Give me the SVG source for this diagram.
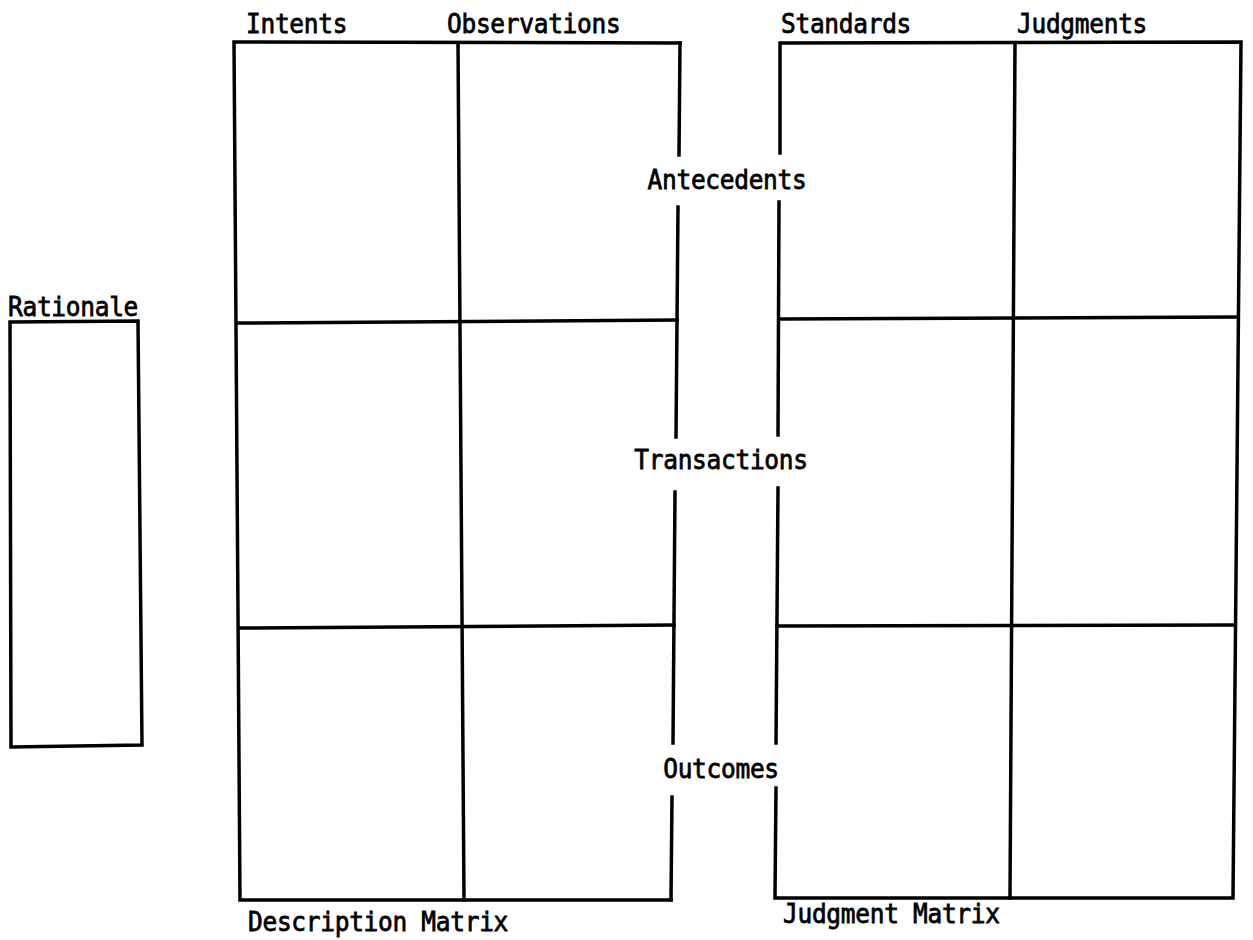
<svg xmlns="http://www.w3.org/2000/svg" width="1253" height="940" viewBox="0 0 1253 940">
<style>
.ln{stroke:#000;stroke-width:3.5;fill:none;stroke-linecap:square;stroke-linejoin:miter}
.t{font-family:"DejaVu Sans Mono","Liberation Mono",monospace;font-size:24.5px;fill:#000;stroke:#000;stroke-width:0.7px;letter-spacing:-0.3px}
.m{text-anchor:middle}
</style>
<rect x="0" y="0" width="1253" height="940" fill="#fff"/>
<g id="rationale">
<path class="ln" d="M10,322 L138,321 L142,745 L11,747 Z"/>
<text class="t" transform="translate(8,316) scale(1,1.1)">Rationale</text>
</g>
<g id="description-matrix">
<path class="ln" d="M680,43 L234,42 L240,900 L671,900"/>
<path class="ln" d="M680,43 L679,155"/>
<path class="ln" d="M678,207 L676,437"/>
<path class="ln" d="M675,492 L673,743"/>
<path class="ln" d="M672,797 L671,900"/>
<path class="ln" d="M458,43 L464,900"/>
<path class="ln" d="M238,323 L677,320"/>
<path class="ln" d="M240,628 L674,625"/>
<text class="t" transform="translate(246,33) scale(1,1.1)">Intents</text>
<text class="t" transform="translate(447,33) scale(1,1.1)">Observations</text>
<text class="t" transform="translate(248,931) scale(1,1.1)">Description Matrix</text>
</g>
<g id="judgment-matrix">
<path class="ln" d="M780,153 L780,43 L1241,42 L1233,898 L775,898 L776,788"/>
<path class="ln" d="M779,202 L778,435"/>
<path class="ln" d="M778,488 L776,743"/>
<path class="ln" d="M1015,43 L1010,898"/>
<path class="ln" d="M779,319 L1237,317"/>
<path class="ln" d="M777,626 L1235,625"/>
<text class="t" transform="translate(781,33) scale(1,1.1)">Standards</text>
<text class="t" transform="translate(1017,33) scale(1,1.1)">Judgments</text>
<text class="t" transform="translate(783,923) scale(1,1.1)">Judgment Matrix</text>
</g>
<g id="row-labels">
<text class="t m" transform="translate(727,189) scale(1,1.1)">Antecedents</text>
<text class="t m" transform="translate(721,469) scale(1,1.1)">Transactions</text>
<text class="t m" transform="translate(721,778) scale(1,1.1)">Outcomes</text>
</g>
</svg>
